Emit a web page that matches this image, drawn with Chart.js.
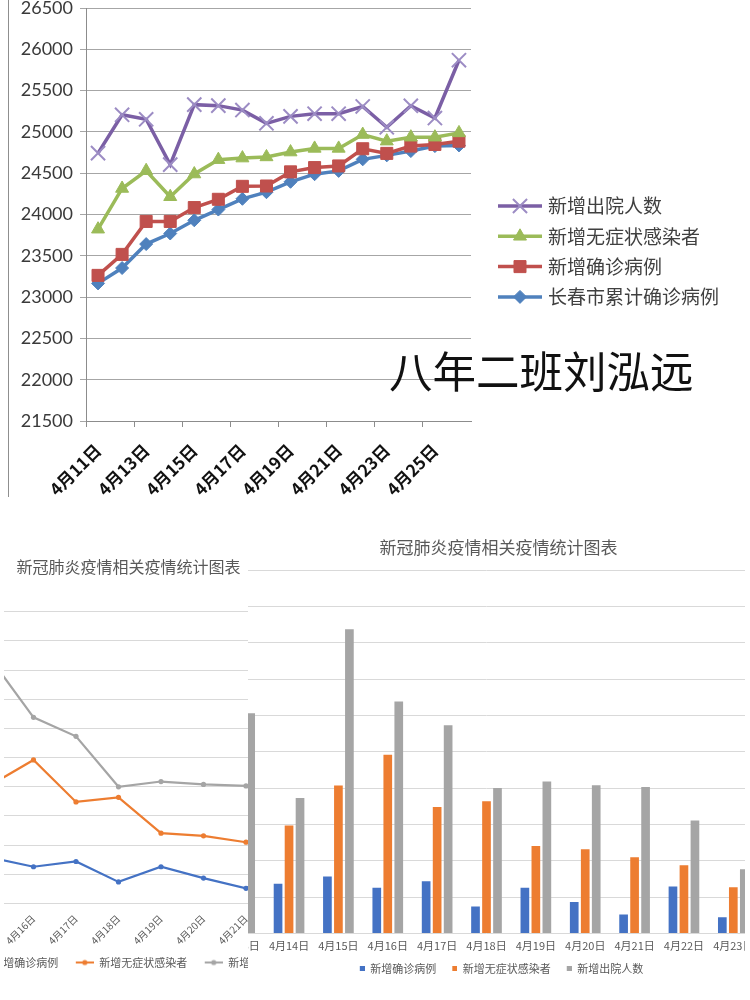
<!DOCTYPE html>
<html>
<head>
<meta charset="utf-8">
<script src="https://cdn.jsdelivr.net/npm/chart.js@4.4.1/dist/chart.umd.min.js"></script>
<style>
  html, body { margin: 0; padding: 0; background: #fff; overflow: hidden; }
  #page { position: relative; width: 750px; height: 1000px; overflow: hidden; background: #fff; }
  .box { position: absolute; overflow: hidden; background: #fff; }
  .box canvas { position: absolute; }
  #topBox { left: 0; top: 0; width: 750px; height: 500px; }
  #edge { position: absolute; left: 8px; top: 0; width: 1px; height: 497px; background: #8f8f8f; }
  #topChart { left: 0; top: -12px; }
  #name { position: absolute; left: 389px; top: 348px; font: 43.5px/44px "Noto Sans CJK SC"; color: #111; white-space: nowrap; }
  #barBox { left: 0; top: 528px; width: 745px; height: 462px; }
  #barChart { left: 185px; top: 0; }
  #lineBox { left: 4px; top: 540px; width: 244px; height: 450px; }
  #lineChart { left: -138.5px; top: 5px; }
</style>
</head>
<body>
<div id="page">
  <div class="box" id="topBox">
    <canvas id="topChart" width="750" height="512"></canvas>
    <div id="edge"></div>
    <div id="name">八年二班刘泓远</div>
  </div>
  <div class="box" id="barBox">
    <canvas id="barChart" width="627" height="456"></canvas>
  </div>
  <div class="box" id="lineBox">
    <canvas id="lineChart" width="525" height="433"></canvas>
  </div>
</div>

<script>
/* ================================
      DADOS — GRÁFICO DE CIMA
================================ */
const diasTopo = ["4月11日", "4月12日", "4月13日", "4月14日", "4月15日", "4月16日", "4月17日", "4月18日",
                  "4月19日", "4月20日", "4月21日", "4月22日", "4月23日", "4月24日", "4月25日", "4月26日"];
const ticksTopo = [21500, 22000, 22500, 23000, 23500, 24000, 24500, 25000, 25500, 26000, 26500];

const chuyuanTopo  = [24743, 25207, 25153, 24604, 25330, 25318, 25264, 25104, 25188, 25220, 25220, 25308, 25056, 25316, 25168, 25868];
const wuzhengTopo  = [23822, 24315, 24530, 24215, 24490, 24664, 24683, 24697, 24756, 24800, 24800, 24968, 24888, 24936, 24936, 24988];
const quezhenTopo  = [23263, 23517, 23916, 23916, 24084, 24184, 24341, 24345, 24516, 24568, 24588, 24796, 24740, 24828, 24848, 24888];
const leijiTopo    = [23166, 23352, 23642, 23770, 23930, 24060, 24190, 24270, 24396, 24488, 24528, 24668, 24716, 24768, 24828, 24836];

/* ================================
      DADOS — GRÁFICOS DE BAIXO
================================ */
const diasBaixo = ["4月13日", "4月14日", "4月15日", "4月16日", "4月17日", "4月18日",
                   "4月19日", "4月20日", "4月21日", "4月22日", "4月23日"];
// 4月13日: só a barra cinza aparece, as outras ficam escondidas
const quezhen = [null, 137, 157, 126, 144, 74, 126, 87, 52, 129, 45];
const wuzheng = [null, 297, 407, 492, 348, 364, 241, 232, 210, 188, 127];
const chuyuan = [606, 373, 837, 638, 573, 400, 418, 408, 403, 311, 177];

const tituloBaixo = "新冠肺炎疫情相关疫情统计图表";
const nomes = ["新增确诊病例", "新增无症状感染者", "新增出院人数"];
const cores = ["#4472C4", "#ED7D31", "#A5A5A5"];

const CJK = '"Noto Sans CJK SC"';

/* ================================
      LEGENDA ESTILO EXCEL (TOPO)
================================ */
const legendaExcel = {
    id: "legendaExcel",
    afterDraw(chart, args, opts) {
        const ctx = chart.ctx;
        chart.data.datasets.forEach((ds, i) => {
            const y = opts.y + i * opts.step;
            const xm = opts.x + opts.lineLength / 2;
            ctx.save();
            ctx.strokeStyle = ds.borderColor;
            ctx.lineWidth = ds.borderWidth;
            ctx.beginPath();
            ctx.moveTo(opts.x, y);
            ctx.lineTo(opts.x + opts.lineLength, y);
            ctx.stroke();
            if (Chart.helpers && Chart.helpers.drawPoint) {
                ctx.fillStyle = ds.pointBackgroundColor;
                ctx.strokeStyle = ds.pointBorderColor;
                ctx.lineWidth = ds.pointBorderWidth;
                Chart.helpers.drawPoint(ctx, {
                    pointStyle: ds.pointStyle,
                    radius: ds.pointRadius,
                    borderWidth: ds.pointBorderWidth,
                    rotation: 0
                }, xm, y);
            }
            ctx.fillStyle = opts.color;
            ctx.font = opts.font;
            ctx.textBaseline = "middle";
            ctx.textAlign = "left";
            ctx.fillText(ds.label, opts.x + opts.lineLength + opts.gap, y);
            ctx.restore();
        });
    }
};

function serieTopo(label, data, cor, estilo, raio, corPonto, bordaPonto) {
    return {
        label: label,
        data: data,
        borderColor: cor,
        borderWidth: 3.5,
        pointStyle: estilo,
        pointRadius: raio,
        pointBackgroundColor: cor,
        pointBorderColor: corPonto,
        pointBorderWidth: bordaPonto,
        tension: 0
    };
}

new Chart(document.getElementById("topChart"), {
    type: "line",
    data: {
        labels: diasTopo,
        datasets: [
            serieTopo("新增出院人数", chuyuanTopo, "#7B5FA5", "crossRot", 10, "#9C8CC4", 2),
            serieTopo("新增无症状感染者", wuzhengTopo, "#9BBB59", "triangle", 7.5, "#9BBB59", 1),
            serieTopo("新增确诊病例", quezhenTopo, "#C0504D", "rect", 8.5, "#C0504D", 1),
            serieTopo("长春市累计确诊病例", leijiTopo, "#4F81BD", "rectRot", 6.5, "#4F81BD", 1)
        ]
    },
    options: {
        responsive: false,
        animation: false,
        layout: { padding: { top: 20, right: 279, bottom: 0, left: 0 } },
        plugins: {
            legend: { display: false },
            tooltip: { enabled: false },
            legendaExcel: {
                x: 498, y: 218, step: 30.3, lineLength: 44, gap: 6,
                font: "19px " + CJK, color: "#404040"
            }
        },
        scales: {
            x: {
                offset: true,
                grid: {
                    offset: true,
                    drawOnChartArea: false,
                    tickLength: 6,
                    color: c => (c.index % 2 === 0 ? "#8c8c8c" : "rgba(0,0,0,0)")
                },
                border: { color: "#8c8c8c" },
                ticks: {
                    autoSkip: false,
                    minRotation: 45,
                    maxRotation: 45,
                    padding: 13,
                    color: "#111",
                    font: { family: CJK, size: 17, weight: "bold" },
                    callback: function (v, i) { return i % 2 === 0 ? this.getLabelForValue(v) : ""; }
                },
                afterFit: s => { s.height = 79; }
            },
            y: {
                min: ticksTopo[0],
                max: ticksTopo[ticksTopo.length - 1],
                ticks: {
                    stepSize: 500,
                    padding: 7,
                    color: "#3a3a3a",
                    font: { family: "Lato", size: 18 },
                    callback: v => (ticksTopo.includes(v) ? String(v) : "")
                },
                grid: { color: "#a6a6a6", tickLength: 6 },
                border: { color: "#8c8c8c" },
                afterFit: s => { s.width = 86; }
            }
        }
    },
    plugins: [legendaExcel]
});

/* ================================
      GRÁFICO DE BARRAS (DIREITA)
================================ */
// quadradinho da legenda, com um respiro à esquerda
function marcaQuadrado(cor) {
    const c = document.createElement("canvas");
    c.width = 11;
    c.height = 5;
    const g = c.getContext("2d");
    g.fillStyle = cor;
    g.fillRect(6, 0, 5, 5);
    return c;
}

new Chart(document.getElementById("barChart"), {
    type: "bar",
    data: {
        labels: diasBaixo,
        datasets: [quezhen, wuzheng, chuyuan].map((d, i) => ({
            label: nomes[i],
            data: d,
            backgroundColor: cores[i],
            categoryPercentage: 0.668,
            barPercentage: 0.79
        }))
    },
    options: {
        responsive: false,
        animation: false,
        layout: { padding: 0 },
        plugins: {
            tooltip: { enabled: false },
            title: {
                display: true,
                text: tituloBaixo,
                color: "#595959",
                font: { family: CJK, size: 17, weight: "normal" },
                padding: { top: 9, bottom: 12.6 }
            },
            legend: {
                position: "bottom",
                labels: {
                    usePointStyle: true,
                    pointStyleWidth: 11,
                    padding: 10,
                    color: "#595959",
                    font: { family: CJK, size: 11 },
                    generateLabels: chart =>
                        Chart.defaults.plugins.legend.labels.generateLabels(chart).map(item => {
                            item.pointStyle = marcaQuadrado(cores[item.datasetIndex]);
                            return item;
                        })
                }
            }
        },
        scales: {
            x: {
                grid: { display: false, drawTicks: false },
                border: { display: false },
                ticks: {
                    autoSkip: false, maxRotation: 0, padding: 6,
                    color: "#595959",
                    font: { family: CJK, size: 11 }
                },
                afterFit: s => { s.height = 19.5; }
            },
            y: {
                min: 0, max: 1000,
                ticks: { display: false, stepSize: 100 },
                grid: { color: "#D9D9D9", drawTicks: false },
                border: { display: false },
                afterFit: s => { s.width = 30; }
            },
            y2: {
                position: "right",
                ticks: { display: false },
                grid: { display: false, drawTicks: false },
                border: { display: false },
                afterFit: s => { s.width = 54; }
            }
        }
    }
});

/* ================================
      GRÁFICO DE LINHAS (ESQUERDA)
================================ */
// linha + ponto da legenda, com um respiro à esquerda
function marcaLegenda(cor) {
    const c = document.createElement("canvas");
    c.width = 24;
    c.height = 8;
    const g = c.getContext("2d");
    g.strokeStyle = cor;
    g.lineWidth = 2;
    g.beginPath();
    g.moveTo(6, 4);
    g.lineTo(24, 4);
    g.stroke();
    g.fillStyle = cor;
    g.beginPath();
    g.arc(15, 4, 2.6, 0, Math.PI * 2);
    g.fill();
    return c;
}

new Chart(document.getElementById("lineChart"), {
    type: "line",
    data: {
        labels: diasBaixo,
        datasets: [quezhen, wuzheng, chuyuan].map((d, i) => ({
            label: nomes[i],
            data: d,
            borderColor: cores[i],
            backgroundColor: cores[i],
            borderWidth: 2.2,
            pointRadius: 2.6,
            pointBorderWidth: 0,
            tension: 0
        }))
    },
    options: {
        responsive: false,
        animation: false,
        layout: { padding: 0 },
        plugins: {
            tooltip: { enabled: false },
            title: {
                display: true,
                text: tituloBaixo,
                color: "#595959",
                font: { family: CJK, size: 16, weight: "normal" },
                padding: { top: 12.4, bottom: 35.1 }
            },
            legend: {
                position: "bottom",
                labels: {
                    usePointStyle: true,
                    pointStyleWidth: 24,
                    padding: 11.5,
                    color: "#595959",
                    font: { family: CJK, size: 11 },
                    generateLabels: chart =>
                        Chart.defaults.plugins.legend.labels.generateLabels(chart).map(item => {
                            item.pointStyle = marcaLegenda(cores[item.datasetIndex]);
                            return item;
                        })
                }
            }
        },
        scales: {
            x: {
                grid: { display: false, drawTicks: false },
                border: { display: false },
                ticks: {
                    autoSkip: false, minRotation: 45, maxRotation: 45, padding: 9,
                    color: "#595959",
                    font: { family: CJK, size: 10 }
                },
                afterFit: s => { s.height = 42; }
            },
            y: {
                min: 0, max: 1000,
                ticks: { display: false, stepSize: 100 },
                grid: { color: "#D9D9D9", drawTicks: false },
                border: { display: false },
                afterFit: s => { s.width = 40; }
            },
            y2: {
                position: "right",
                ticks: { display: false },
                grid: { display: false, drawTicks: false },
                border: { display: false },
                afterFit: s => { s.width = 60; }
            }
        }
    }
});
</script>
</body>
</html>
